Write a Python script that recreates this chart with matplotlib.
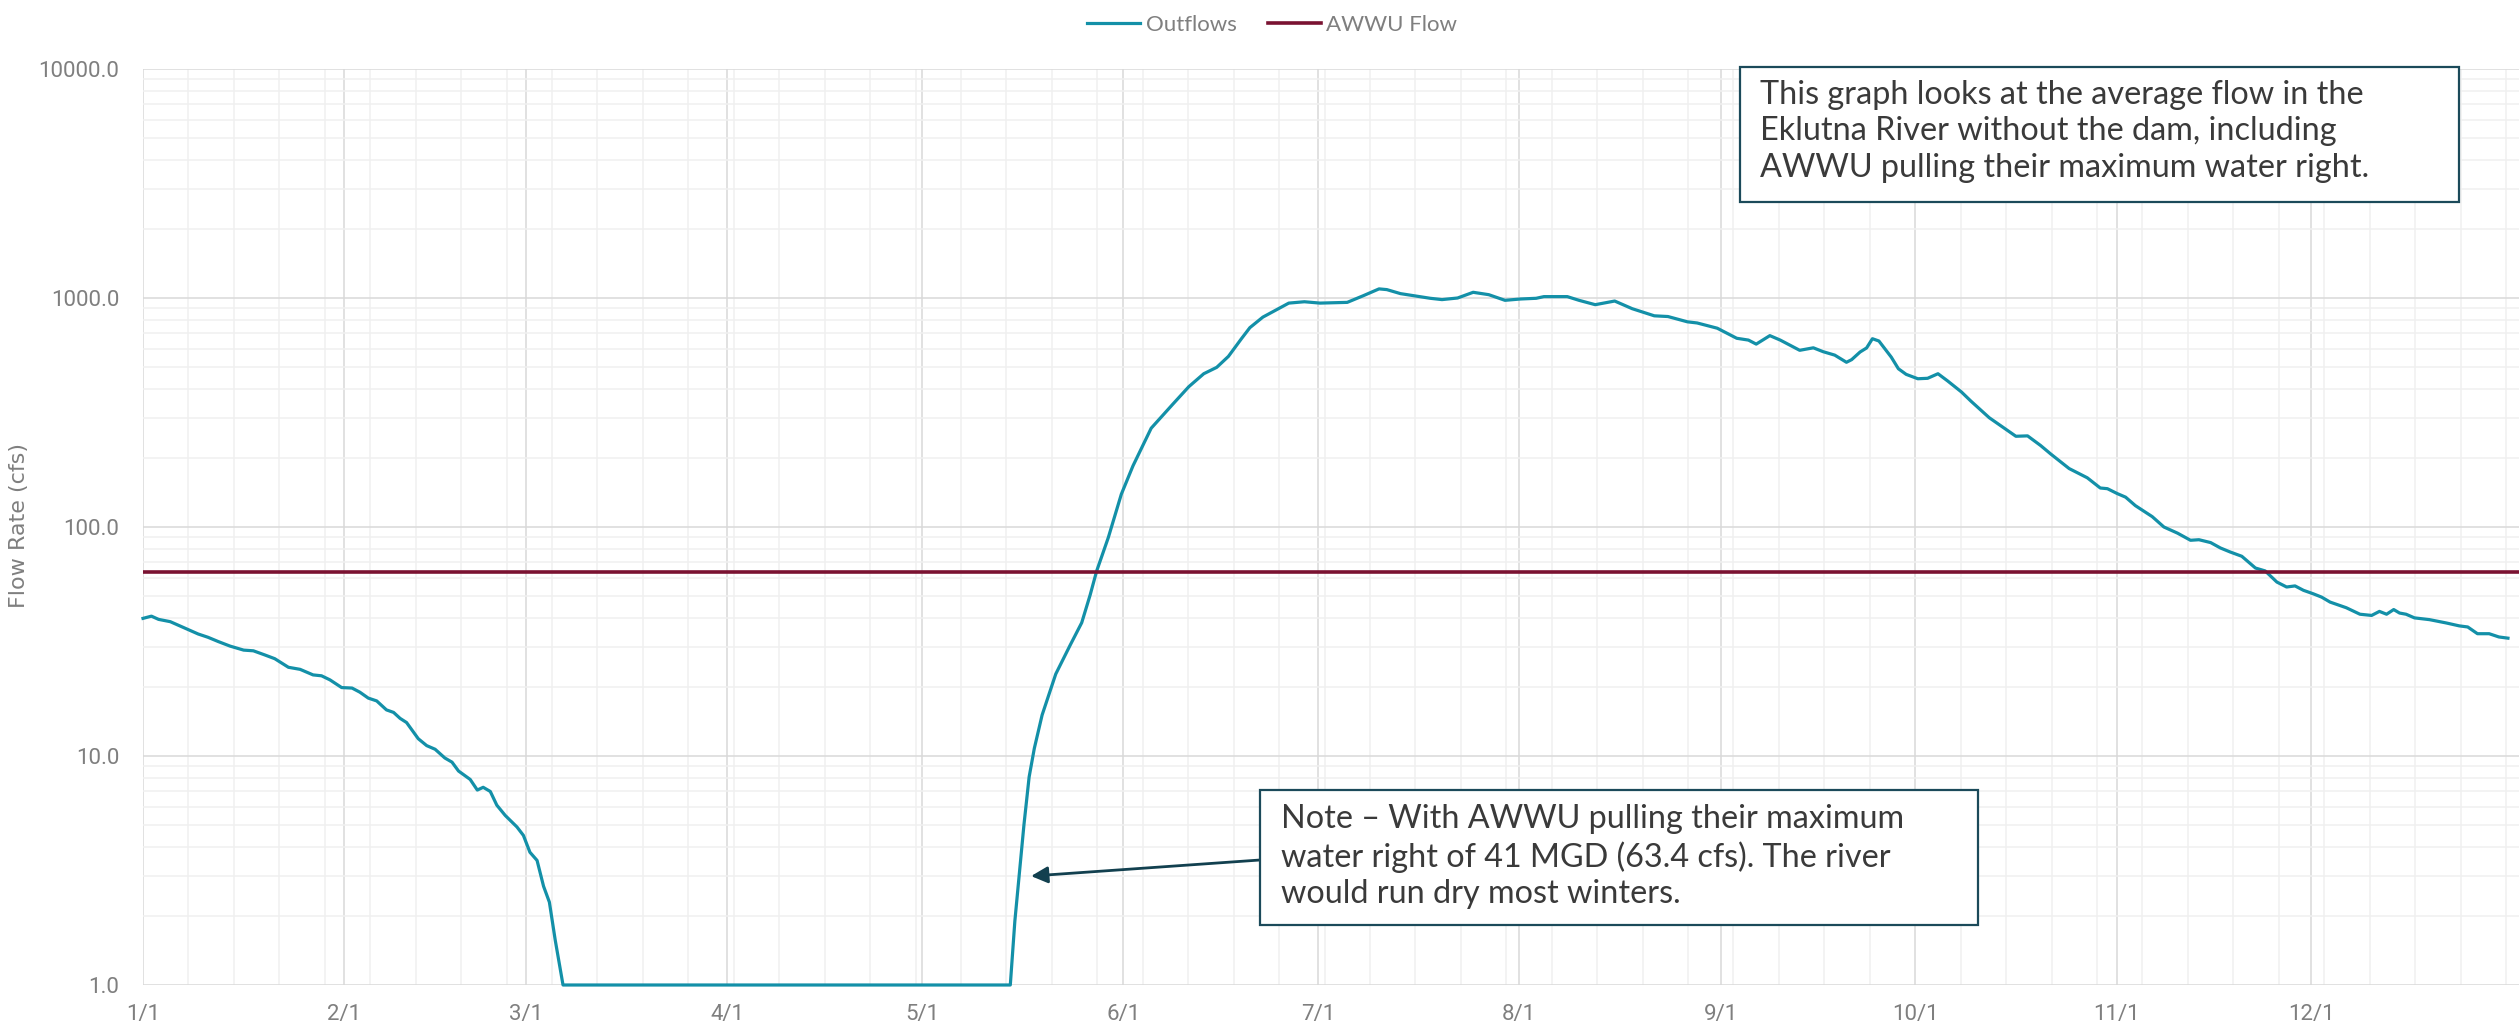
import matplotlib
matplotlib.use("Agg")
import matplotlib.pyplot as plt
from matplotlib.patches import Rectangle
from matplotlib.ticker import FixedLocator, FuncFormatter, LogLocator, NullFormatter

# Data (day of year, 0 = Jan 1)
outflow_day = [
    0, 1.3, 2.4, 4.2, 6.7, 8.5, 10, 11.6, 13.4, 15.5, 17, 18.8, 20.3, 22.4, 24.2,
    26.2, 27.5, 28.8, 30.6, 32.2, 33.4, 34.7, 36, 37.5, 38.6, 39.6, 40.6, 42.4,
    43.7, 45, 46.5, 47.6, 48.6, 50.4, 51.5, 52.4, 53.5, 54.5, 55.8, 57.6, 58.6,
    59.6, 60.7, 61.7, 62.6, 63.5, 64.7,
    133.6, 134.3, 135, 135.7, 136.5, 137.3, 138.5, 140.6, 142.8, 144.6, 145.9,
    146.9, 148.7, 150.7, 152.5, 155.3, 158.6, 161.1, 163.4, 165.4, 167.2, 169.2,
    170.5, 172.5, 175.6, 176.5, 178.9, 181.3, 185.5, 188, 190.4, 191.6, 193.7,
    196.4, 198.3, 200.1, 202.5, 204.9, 207.3, 209.8, 212.2, 214.6, 215.8, 219.4,
    221.2, 223.7, 226.7, 229.4, 232.8, 234.9, 237.9, 239.4, 242.5, 245.5, 247.3,
    248.5, 250.6, 252.2, 255.2, 257.3, 258.8, 260.6, 262.4, 263.2, 264.5, 265.5,
    266.4, 267.4, 269.3, 270.4, 271.6, 273.4, 274.9, 276.5, 278, 280.1, 281.6,
    284.4, 287.2, 288.5, 290.3, 292.3, 293.9, 296.7, 299.5, 301.5, 302.6, 304.1,
    305.4, 306.9, 309.5, 311.3, 313.4, 315.4, 316.7, 318.5, 320, 321.5, 323.3,
    325.4, 326.9, 328.7, 330.2, 331.5, 332.8, 334.3, 335.6, 336.9, 339.4, 341.5,
    343.3, 344.5, 345.6, 346.7, 347.6, 348.6, 349.9, 352.2, 354.8, 356.8, 358.1,
    359.6, 361.4, 362.9, 364.3,
]
outflow_cfs = [
    39.9, 40.8, 39.5, 38.6, 35.9, 34.1, 33.0, 31.6, 30.2, 29.0, 28.8, 27.6, 26.6,
    24.4, 23.9, 22.6, 22.4, 21.5, 19.9, 19.8, 19.0, 17.9, 17.4, 15.9, 15.5, 14.6,
    14.0, 11.9, 11.1, 10.7, 9.8, 9.4, 8.6, 7.9, 7.1, 7.3, 7.0, 6.1, 5.5, 4.9, 4.5,
    3.8, 3.5, 2.7, 2.3, 1.57, 1.0,
    1.0, 1.9, 3.1, 5.0, 8.1, 10.8, 15.1, 22.8, 30.4, 38.2, 50.5, 64.2, 90, 139,
    185, 270, 343, 410, 467, 498, 556, 664, 742, 825, 921, 950, 963, 950, 957,
    1024, 1096, 1088, 1045, 1017, 997, 984, 1000, 1059, 1034, 977, 990, 997, 1014,
    1014, 977, 935, 970, 898, 836, 830, 787, 778, 738, 667, 655, 629, 685, 655,
    591, 606, 583, 563, 524, 538, 581, 605, 664, 649, 552, 491, 464, 444, 446, 467,
    434, 389, 354, 300, 264, 249, 250, 227, 208, 180, 164, 148, 147, 140, 135, 124,
    111, 100, 94, 87.5, 88, 85.5, 81, 77.8, 74.5, 66.2, 64.3, 57.5, 54.7, 55.3,
    52.9, 51.1, 49.4, 47.0, 44.4, 41.6, 41.1, 42.8, 41.6, 43.6, 42.1, 41.6, 40.1,
    39.4, 38.1, 37.0, 36.6, 34.2, 34.2, 33.1, 32.7,
]
awwu_flow = 63.4

month_days = [0, 31, 59, 90, 120, 151, 181, 212, 243, 273, 304, 334]
month_labels = ["1/1", "2/1", "3/1", "4/1", "5/1", "6/1", "7/1", "8/1", "9/1", "10/1", "11/1", "12/1"]

note_top = "This graph looks at the average flow in the\nEklutna River without the dam, including\nAWWU pulling their maximum water right."
note_bottom = "Note \u2013 With AWWU pulling their maximum\nwater right of 41 MGD (63.4 cfs). The river\nwould run dry most winters."

teal = "#1390A8"
maroon = "#7A1231"
grey = "#7F7F7F"
box_edge = "#1B4A5A"
tick_font = "Roboto"
note_font = "Lato"

W, H = 2519, 1028
fig = plt.figure(figsize=(W / 100, H / 100), dpi=100)
ax = fig.add_axes([143 / W, 1 - 985 / H, 1 - 143 / W, (985 - 69) / H])

ax.plot(outflow_day, outflow_cfs, color=teal, lw=2.3, label="Outflows", zorder=3, clip_on=False)
ax.axhline(awwu_flow, color=maroon, lw=2.6, label="AWWU Flow", zorder=3)

ax.set_yscale("log")
ax.set_ylim(1, 10000)
ax.set_xlim(0, 366)

ax.xaxis.set_major_locator(FixedLocator(month_days))
ax.set_xticklabels(month_labels)
ax.xaxis.set_minor_locator(FixedLocator(list(range(0, 366, 7))))
ax.yaxis.set_major_locator(LogLocator(base=10, numticks=10))
ax.yaxis.set_major_formatter(FuncFormatter(lambda v, p: f"{v:.1f}"))
ax.yaxis.set_minor_locator(LogLocator(base=10, subs=range(2, 10), numticks=20))
ax.yaxis.set_minor_formatter(NullFormatter())

ax.grid(which="major", color="#D9D9D9", lw=1.1, zorder=1)
ax.grid(which="minor", color="#F0F0F0", lw=1.1, zorder=0)
ax.set_axisbelow(True)
for s in ax.spines.values():
    s.set_visible(False)

ax.tick_params(which="both", length=0)
ax.tick_params(axis="y", pad=17, labelsize=16, labelcolor=grey)
ax.tick_params(axis="x", pad=14, labelsize=16, labelcolor=grey)
for lbl in ax.get_xticklabels() + ax.get_yticklabels():
    lbl.set_family(tick_font)

fig.text(19 / W, 1 - 525 / H, "Flow Rate (cfs)", rotation=90, ha="center", va="center",
         fontsize=16, color=grey, family="DejaVu Sans")

fig.legend(loc="upper center", bbox_to_anchor=(0.505, 1.005), ncol=2, frameon=False,
           handlelength=2.4, handletextpad=0.25, columnspacing=1.4,
           prop={"family": "Lato", "size": 16}, labelcolor=grey)

# annotation boxes
fig.patches.append(Rectangle((1740 / W, 1 - 202 / H), 719 / W, 135 / H, transform=fig.transFigure,
                             facecolor="white", edgecolor=box_edge, lw=1.6, zorder=5))
fig.text(1760 / W, 1 - 80 / H, note_top, ha="left", va="top", fontsize=23.3, color="#3A3A3A",
         family=note_font, linespacing=1.27, zorder=6)

fig.patches.append(Rectangle((1260 / W, 1 - 925 / H), 718 / W, 135 / H, transform=fig.transFigure,
                             facecolor="white", edgecolor=box_edge, lw=1.6, zorder=5))
fig.text(1281 / W, 1 - 804 / H, note_bottom, ha="left", va="top", fontsize=23.3, color="#3A3A3A",
         family=note_font, linespacing=1.27, zorder=6)

ax.annotate("", xy=(136.8, 2.99), xycoords="data",
            xytext=(1260 / W, 1 - 860 / H), textcoords="figure fraction",
            arrowprops=dict(arrowstyle="-|>", color="#12404F", lw=2, mutation_scale=25,
                            shrinkA=0, shrinkB=0))

fig.savefig("out.png", dpi=100)
